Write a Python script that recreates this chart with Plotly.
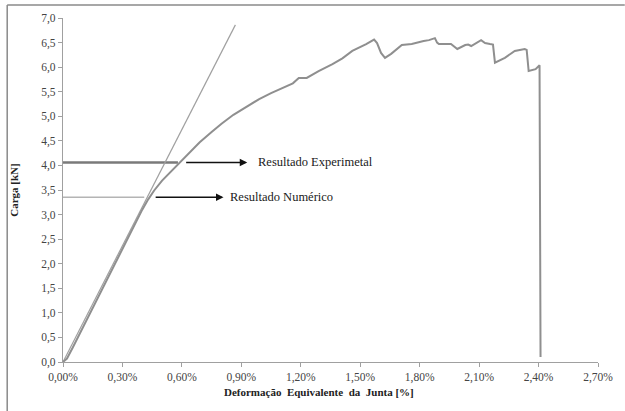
import plotly.graph_objects as go

# Load-deformation curve of the joint test
deform_exp = [0.00, 0.02, 0.05, 0.10, 0.15, 0.20, 0.25, 0.30, 0.35, 0.40, 0.43, 0.46,
              0.50, 0.55, 0.59, 0.64, 0.69, 0.75, 0.80, 0.86, 0.92, 0.99, 1.05, 1.11,
              1.16, 1.19, 1.23, 1.29, 1.36, 1.41, 1.46, 1.53, 1.57, 1.585, 1.605, 1.625,
              1.656, 1.71, 1.76, 1.82, 1.847, 1.877, 1.888, 1.897, 1.958, 1.99, 2.03,
              2.045, 2.06, 2.11, 2.13, 2.155, 2.17, 2.18, 2.23, 2.28, 2.33, 2.34, 2.35,
              2.385, 2.405, 2.41]
carga_exp = [0.00, 0.07, 0.30, 0.70, 1.10, 1.51, 1.92, 2.33, 2.72, 3.10, 3.31, 3.49,
             3.69, 3.89, 4.06, 4.27, 4.47, 4.68, 4.85, 5.03, 5.18, 5.35, 5.47, 5.58,
             5.67, 5.78, 5.78, 5.92, 6.06, 6.18, 6.33, 6.47, 6.56, 6.49, 6.29, 6.19,
             6.27, 6.45, 6.47, 6.53, 6.55, 6.59, 6.50, 6.47, 6.47, 6.37, 6.45, 6.46,
             6.43, 6.55, 6.49, 6.47, 6.46, 6.09, 6.19, 6.33, 6.37, 6.35, 5.92, 5.96,
             6.04, 0.10]

# Linear (elastic) reference line
deform_lin = [0.00, 0.87]
carga_lin = [0.00, 6.86]

# Reference load levels
carga_experimental = 4.06
carga_numerico = 3.35
fim_experimental = 0.58
fim_numerico = 0.41

x_ticks = [0.0, 0.3, 0.6, 0.9, 1.2, 1.5, 1.8, 2.1, 2.4, 2.7]
x_ticktext = [f"{v:.2f}%".replace(".", ",") for v in x_ticks]
y_ticks = [0.0, 0.5, 1.0, 1.5, 2.0, 2.5, 3.0, 3.5, 4.0, 4.5, 5.0, 5.5, 6.0, 6.5, 7.0]

serif = "Times New Roman, Liberation Serif, serif"

fig = go.Figure()

fig.add_trace(go.Scatter(x=[0, fim_experimental], y=[carga_experimental] * 2,
                         mode="lines", line=dict(color="#7a7a7a", width=2.5),
                         hoverinfo="skip"))
fig.add_trace(go.Scatter(x=[0, fim_numerico], y=[carga_numerico] * 2,
                         mode="lines", line=dict(color="#b4b4b4", width=1.5),
                         hoverinfo="skip"))
fig.add_trace(go.Scatter(x=deform_lin, y=carga_lin, mode="lines",
                         line=dict(color="#a0a0a0", width=1.2)))
fig.add_trace(go.Scatter(x=deform_exp, y=carga_exp, mode="lines",
                         line=dict(color="#8f8f8f", width=2)))

# Arrows and labels
arrows = [
    (0.614, 0.93, carga_experimental, 0.975, "Resultado Experimetal"),
    (0.46, 0.81, carga_numerico, 0.835, "Resultado Numérico"),
]
for x0, x1, yv, xt, txt in arrows:
    fig.add_annotation(x=x1, y=yv, ax=x0, ay=yv, xref="x", yref="y",
                       axref="x", ayref="y", text="", showarrow=True,
                       arrowhead=2, arrowsize=1, arrowwidth=1.5,
                       arrowcolor="#111111")
    fig.add_annotation(x=xt, y=yv, xref="x", yref="y", text=txt,
                       showarrow=False, xanchor="left", yanchor="middle",
                       font=dict(family=serif, size=12.5, color="#1a1a1a"))

# X axis title
fig.add_annotation(x=0.4786, y=-0.087, xref="paper", yref="paper",
                   text="<b>Deformação  Equivalente  da  Junta [%]</b>",
                   showarrow=False, xanchor="center", yanchor="middle",
                   font=dict(family=serif, size=11, color="#222222"))

# Outer frame (left and top edges)
frame_color = "#8a8a8a"
fig.add_shape(type="line", xref="paper", yref="paper", x0=-0.1043, x1=-0.1043,
              y0=-0.15, y1=1.0377, line=dict(color=frame_color, width=1.5))
fig.add_shape(type="line", xref="paper", yref="paper", x0=-0.1043, x1=1.05,
              y0=1.0377, y1=1.0377, line=dict(color=frame_color, width=1.5))

fig.update_layout(
    width=625, height=411,
    margin=dict(l=63, r=25, t=17, b=49),
    paper_bgcolor="white", plot_bgcolor="white",
    showlegend=False,
    separators=",.",
    font=dict(family=serif, size=11, color="#444444"),
)
fig.update_xaxes(range=[0, 2.7], tickvals=x_ticks, ticktext=x_ticktext,
                 showgrid=False, zeroline=False, showline=True, linecolor="#a0a0a0",
                 linewidth=1.2, ticks="outside", ticklen=4, tickcolor="#a0a0a0",
                 tickfont=dict(family=serif, size=11.5, color="#444444"))
fig.update_yaxes(range=[0, 7], tickvals=y_ticks, tickformat=".1f",
                 showgrid=False, zeroline=False, showline=True, linecolor="#a0a0a0",
                 linewidth=1.2, ticks="outside", ticklen=4, tickcolor="#a0a0a0",
                 tickfont=dict(family=serif, size=11.5, color="#444444"),
                 title=dict(text="<b>Carga [kN]</b>",
                            font=dict(family=serif, size=11, color="#222222"),
                            standoff=20))

fig.write_html("out.html")
